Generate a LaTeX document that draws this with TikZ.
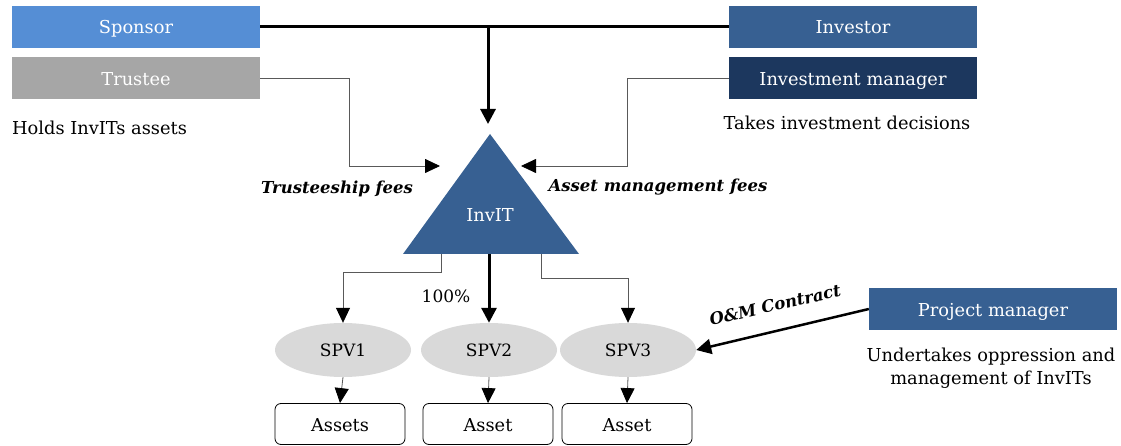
\documentclass[tikz,border=0pt]{standalone}
\usepackage{fontspec}
\setmainfont{DejaVu Serif}
\usetikzlibrary{arrows.meta,shapes.geometric}
\definecolor{spblue}{HTML}{558ED5}
\definecolor{trgray}{HTML}{A6A6A6}
\definecolor{midblue}{HTML}{376092}
\definecolor{darkblue}{HTML}{1C375E}
\definecolor{spvgray}{HTML}{D9D9D9}
\definecolor{thingray}{HTML}{595959}
\newcommand{\mysize}{\fontsize{17.8}{23}\selectfont}
\newcommand{\smallsz}{\fontsize{17}{20}\selectfont}
\newcommand{\feesz}{\fontsize{16.5}{20}\selectfont}
\tikzset{
  rolebox/.style={rectangle, minimum width=248pt, minimum height=42pt, inner sep=0pt, text=white, font=\mysize, text height=17pt, text depth=3pt},
  spvnode/.style={ellipse, fill=spvgray, minimum width=136pt, minimum height=54pt, inner sep=0pt, font=\smallsz},
  assetbox/.style={rectangle, rounded corners=6pt, draw=black, line width=0.8pt, minimum width=130pt, minimum height=41pt, inner sep=0pt, font=\mysize, text height=17pt, text depth=3pt},
  plain/.style={font=\mysize, inner sep=0pt},
  fee/.style={font=\feesz\bfseries\itshape, inner sep=0pt},
  thinarrow/.style={draw=thingray, line width=0.8pt, -{Triangle[length=15pt,width=14pt,color=black]}},
  thickarrow/.style={draw=black, line width=3pt, -{Triangle[length=15pt,width=15pt]}},
  thickline/.style={draw=black, line width=3pt}
}
\begin{document}
\begin{tikzpicture}[x=1pt,y=-1pt]
\useasboundingbox (0,0) rectangle (1121,446);
% top boxes
\node[rolebox, fill=spblue] (sponsor) at (136,27) {Sponsor};
\node[rolebox, fill=trgray] (trustee) at (136,78.5) {Trustee};
\node[rolebox, fill=midblue] (investor) at (853,27) {Investor};
\node[rolebox, fill=darkblue] (im) at (853,78.5) {Investment manager};
\node[rolebox, fill=midblue] (pm) at (993,309) {Project manager};
% descriptions
\node[plain, anchor=west] (holds) at (12,128) {Holds InvITs assets};
\node[plain] (takes) at (847,123) {Takes investment decisions};
\node[plain, align=center] (under) at (991,368) {Undertakes oppression and\\management of InvITs};
% InvIT triangle
\fill[midblue] (490,134) -- (579,254) -- (403,254) -- cycle;
\coordinate (apex) at (490,134);
\node[plain, text=white] (invit) at (490,215) {InvIT};
\coordinate (t1) at (441,254);
\coordinate (t2) at (489,254);
\coordinate (t3) at (541,254);
\coordinate (tfin) at (440,166);
\coordinate (amin) at (521,166);
% top connectors
\draw[thickline] (sponsor.east) -- (investor.west);
\coordinate (j) at (488,27);
\draw[thickarrow, shorten >=10pt] (j) -- (j |- apex);
\draw[thinarrow] (trustee.east) -- (349,78.5) |- (tfin);
\draw[thinarrow] (im.west) -- (627,78.5) |- (amin);
\node[fee] (tfees) at (337,189) {Trusteeship fees};
\node[fee] (afees) at (658,187) {Asset management fees};
% SPVs
\node[spvnode] (spv1) at (343,350) {SPV1};
\node[spvnode] (spv2) at (489,350) {SPV2};
\node[spvnode] (spv3) at (628,350) {SPV3};
\draw[thinarrow] (t1) -- ++(0,18) -| (spv1.north);
\draw[thickarrow] (t2) -- (spv2.north);
\draw[thinarrow] (t3) -- ++(0,24) -| (spv3.north);
\node[plain, font=\smallsz] (pct) at (446,296) {100\%};
% assets
\node[assetbox] (a1) at (340,424) {Assets};
\node[assetbox] (a2) at (488,424) {Asset};
\node[assetbox] (a3) at (627,424) {Asset};
\draw[thinarrow] (spv1.south) -- (a1.north);
\draw[thinarrow] (spv2.south) -- (a2.north);
\draw[thinarrow] (spv3.south) -- (a3.north);
% O&M
\draw[thickarrow, line width=2.5pt] (pm.west) -- (spv3.east);
\node[fee, rotate=13] (om) at (775,305) {O\&M Contract};
\end{tikzpicture}
\end{document}
